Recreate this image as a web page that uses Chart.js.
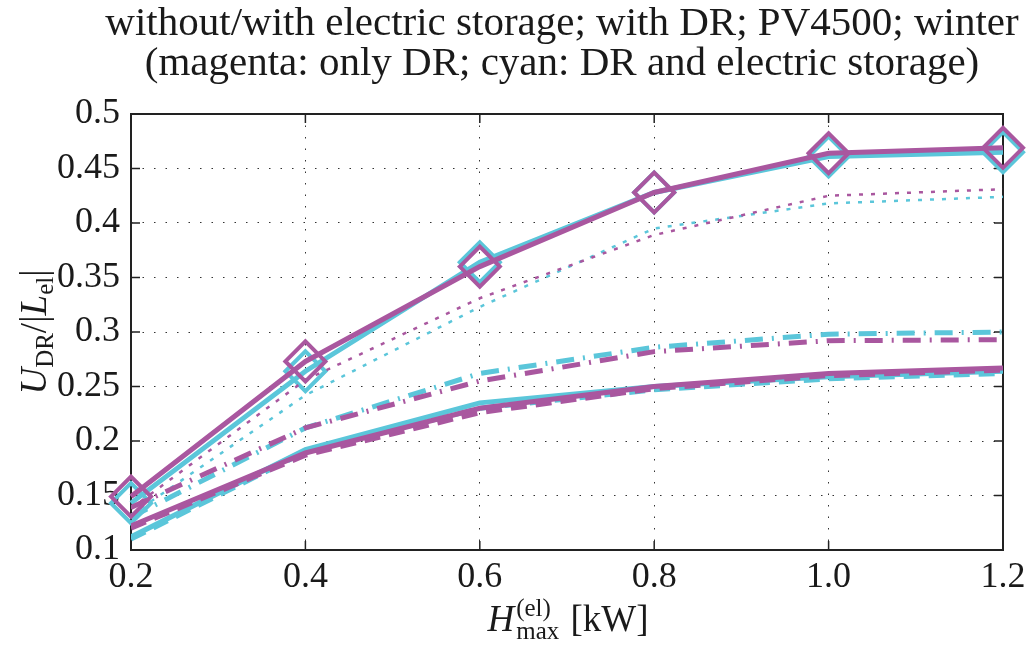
<!DOCTYPE html>
<html>
<head>
<meta charset="utf-8">
<script src="https://cdn.jsdelivr.net/npm/chart.js@4.4.0/dist/chart.umd.min.js"></script>
<style>
  html, body { margin: 0; padding: 0; background: #fff; }
  #wrap { width: 1032px; height: 646px; }
</style>
</head>
<body>
<div id="wrap"><canvas id="grafik"></canvas></div>
<script>
// x values (H_max^(el) in kW) and tick labels
const hMax = [0.2, 0.4, 0.6, 0.8, 1.0, 1.2];
const xTickLabels = ['0.2', '0.4', '0.6', '0.8', '1.0', '1.2'];
const yTickValues = [0.1, 0.15, 0.2, 0.25, 0.3, 0.35, 0.4, 0.45, 0.5];
const yTickLabels = ['0.1', '0.15', '0.2', '0.25', '0.3', '0.35', '0.4', '0.45', '0.5'];

// magenta: only DR
const magDiamond = [0.149, 0.273, 0.360, 0.428, 0.464, 0.469];
const magDotted  = [0.138, 0.256, 0.331, 0.389, 0.425, 0.431];
const magDashDot = [0.139, 0.212, 0.255, 0.282, 0.292, 0.293];
const magSolid   = [0.122, 0.189, 0.230, 0.250, 0.262, 0.267];
const magDashed  = [0.120, 0.187, 0.226, 0.248, 0.260, 0.265];

// cyan: DR and electric storage
const cyanDiamond = [0.143, 0.264, 0.364, 0.428, 0.461, 0.465];
const cyanDotted  = [0.132, 0.242, 0.323, 0.395, 0.418, 0.424];
const cyanDashDot = [0.130, 0.212, 0.262, 0.286, 0.298, 0.300];
const cyanSolid   = [0.112, 0.192, 0.235, 0.250, 0.259, 0.264];
const cyanDashed  = [0.110, 0.190, 0.230, 0.247, 0.257, 0.262];

const titleLines = ['without/with electric storage; with DR; PV4500; winter',
                    '(magenta: only DR; cyan: DR and electric storage)'];

const MAG = '#a9579f';
const CYAN = '#5bc6da';
const FAM = '"Liberation Serif", "Times New Roman", serif';
const INK = '#1a1a1a';

function seri(vals, color, kind) {
    const ds = {
        data: vals.map((v, i) => ({ x: hMax[i], y: v })),
        borderColor: color,
        backgroundColor: color,
        borderWidth: 5,
        tension: 0,
        pointRadius: 0,
        pointHoverRadius: 0,
        fill: false
    };
    if (kind === 'diamond') {
        ds.pointStyle = 'rectRot';
        ds.pointRadius = 20;
        ds.pointBorderWidth = 4;
        ds.pointBorderColor = color;
        ds.pointBackgroundColor = 'rgba(0,0,0,0)';
        ds.clip = false;
    } else if (kind === 'dotted') {
        ds.borderWidth = 2.5;
        ds.borderDash = [4, 8];
    } else if (kind === 'dashdot') {
        ds.borderDash = [18, 9, 2, 9];
    } else if (kind === 'dashed') {
        ds.borderDash = [16, 9];
    }
    return ds;
}

// teks dengan sub/superskrip
function runText(ctx, parts) {
    let w = 0;
    parts.forEach(p => { ctx.font = p.f; w += ctx.measureText(p.t).width; });
    return w;
}

const frame = {
    id: 'frame',
    beforeDatasetsDraw(chart) {
        const { ctx, chartArea: a, scales } = chart;
        ctx.save();
        ctx.strokeStyle = '#222';
        ctx.lineWidth = 2;
        ctx.strokeRect(a.left, a.top, a.right - a.left, a.bottom - a.top);
        ctx.lineWidth = 1.5;
        ctx.beginPath();
        scales.y.ticks.forEach(t => {
            const y = scales.y.getPixelForValue(t.value);
            ctx.moveTo(a.left, y); ctx.lineTo(a.left + 9, y);
            ctx.moveTo(a.right, y); ctx.lineTo(a.right - 9, y);
        });
        scales.x.ticks.forEach(t => {
            const x = scales.x.getPixelForValue(t.value);
            ctx.moveTo(x, a.bottom); ctx.lineTo(x, a.bottom - 9);
            ctx.moveTo(x, a.top); ctx.lineTo(x, a.top + 9);
        });
        ctx.stroke();
        ctx.restore();
    },
    afterDraw(chart) {
        const { ctx, chartArea: a } = chart;
        const big = '37px ' + FAM, bigI = 'italic 37px ' + FAM, small = '25px ' + FAM;
        ctx.save();
        ctx.fillStyle = INK;
        ctx.textBaseline = 'alphabetic';

        // judul dua baris
        ctx.textAlign = 'center';
        ctx.font = '41px ' + FAM;
        ctx.fillText(titleLines[0], 562, 35);
        ctx.fillText(titleLines[1], 562, 75);

        ctx.textAlign = 'left';
        // x axis title: H_max^(el) [kW]
        ctx.font = bigI; const wH = ctx.measureText('H').width;
        ctx.font = small; const wSup = ctx.measureText('(el)').width, wSub = ctx.measureText('max').width;
        ctx.font = big; const wU = ctx.measureText(' [kW]').width;
        const wS = Math.max(wSup, wSub) + 2;
        let x = (a.left + a.right) / 2 - (wH + wS + wU) / 2;
        const base = 631;
        ctx.font = bigI; ctx.fillText('H', x, base); x += wH + 2;
        ctx.font = small; ctx.fillText('(el)', x, base - 15); ctx.fillText('max', x, base + 8); x += wS;
        ctx.font = big; ctx.fillText(' [kW]', x, base);

        // y axis title: U_DR/|L_el|
        const parts = [
            { t: 'U', f: bigI, dy: 0 }, { t: 'DR', f: small, dy: 7 },
            { t: '/|', f: big, dy: 0 }, { t: 'L', f: bigI, dy: 0 },
            { t: 'el', f: small, dy: 7 }, { t: '|', f: big, dy: 0 }
        ];
        const tw = runText(ctx, parts);
        ctx.translate(46, (a.top + a.bottom) / 2);
        ctx.rotate(-Math.PI / 2);
        let px = -tw / 2;
        parts.forEach(p => { ctx.font = p.f; ctx.fillText(p.t, px, p.dy); px += ctx.measureText(p.t).width; });
        ctx.restore();
    }
};

const ctx = document.getElementById('grafik');

new Chart(ctx, {
    type: 'line',
    data: {
        datasets: [
            seri(magDiamond, MAG, 'diamond'),
            seri(magDotted, MAG, 'dotted'),
            seri(magDashDot, MAG, 'dashdot'),
            seri(magSolid, MAG, 'solid'),
            seri(magDashed, MAG, 'dashed'),
            seri(cyanDiamond, CYAN, 'diamond'),
            seri(cyanDotted, CYAN, 'dotted'),
            seri(cyanDashDot, CYAN, 'dashdot'),
            seri(cyanSolid, CYAN, 'solid'),
            seri(cyanDashed, CYAN, 'dashed')
        ]
    },
    options: {
        responsive: true,
        maintainAspectRatio: false,
        animation: false,
        layout: { padding: { left: 0, right: 29, top: 114, bottom: 0 } },
        plugins: {
            legend: { display: false },
            tooltip: { enabled: false },
            title: { display: false }
        },
        scales: {
            x: {
                type: 'linear',
                min: 0.2, max: 1.2,
                afterBuildTicks: s => { s.ticks = hMax.map(v => ({ value: v })); },
                afterFit: s => { s.height = 96; },
                ticks: {
                    color: INK,
                    font: { family: FAM, size: 36 },
                    padding: 6,
                    maxRotation: 0,
                    callback: (v) => xTickLabels[hMax.indexOf(v)] ?? ''
                },
                grid: { color: '#333', lineWidth: 1, drawTicks: false },
                border: { display: false, dash: [1.5, 10] }
            },
            y: {
                min: 0.1, max: 0.5,
                afterBuildTicks: s => { s.ticks = yTickValues.map(v => ({ value: v })); },
                afterFit: s => { s.width = 131; },
                ticks: {
                    color: INK,
                    font: { family: FAM, size: 36 },
                    padding: 11,
                    callback: (v) => yTickLabels[yTickValues.indexOf(v)] ?? ''
                },
                grid: { color: '#333', lineWidth: 1, drawTicks: false },
                border: { display: false, dash: [1.5, 10] }
            }
        }
    },
    plugins: [frame]
});
</script>
</body>
</html>
